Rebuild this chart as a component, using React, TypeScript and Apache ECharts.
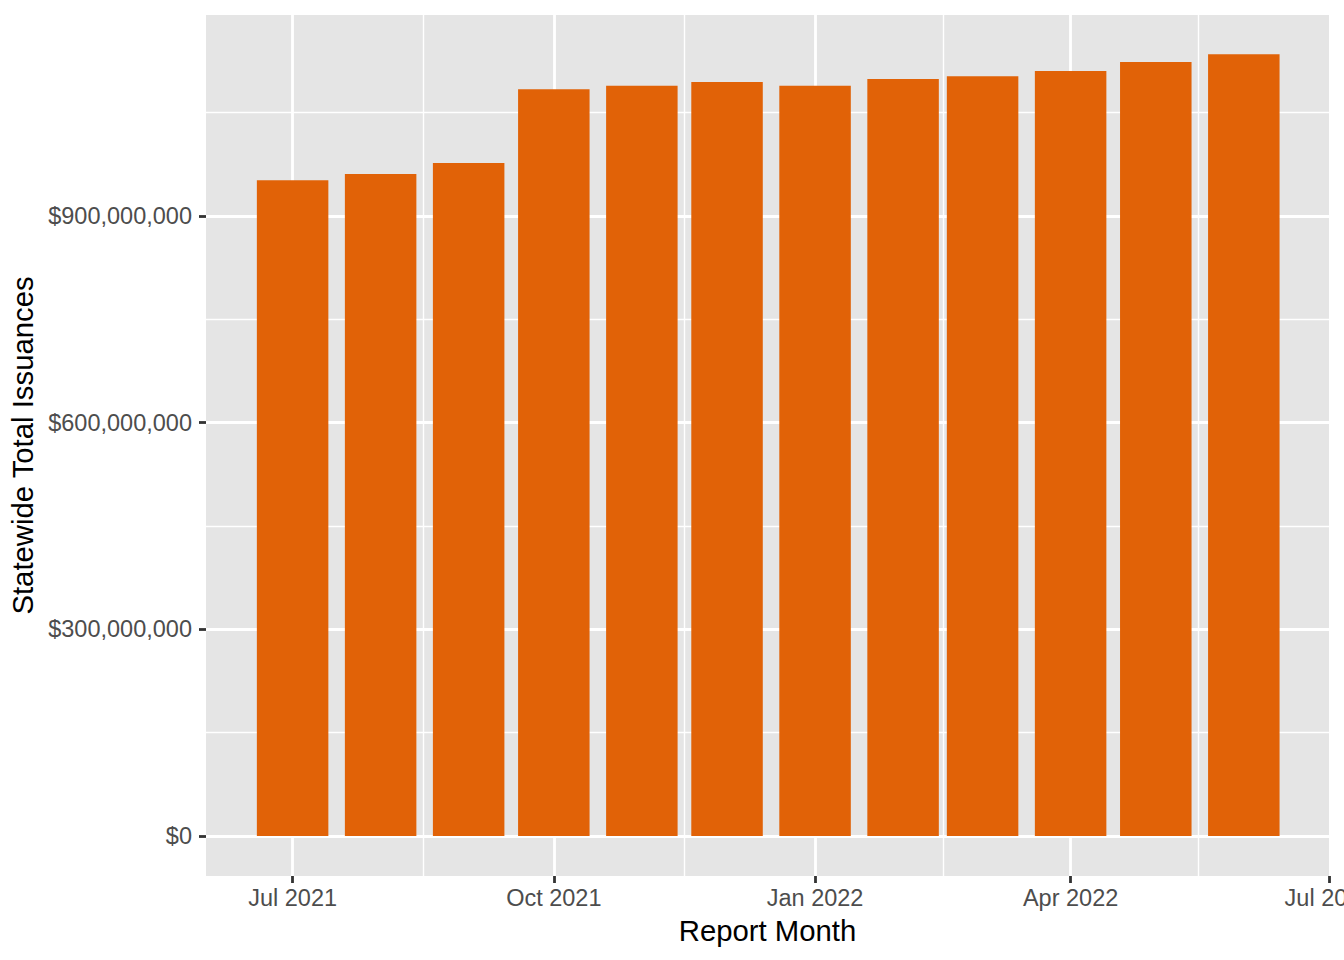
import { useEffect, useRef } from 'react';
import * as echarts from 'echarts';

// report months (first of month) and statewide totals in dollars
const months = [
  '2021-07-01', '2021-08-01', '2021-09-01', '2021-10-01', '2021-11-01', '2021-12-01',
  '2022-01-01', '2022-02-01', '2022-03-01', '2022-04-01', '2022-05-01', '2022-06-01',
];
const issuances = [
  952e6, 961e6, 977e6, 1084e6, 1089e6, 1094.5e6,
  1089e6, 1099e6, 1103e6, 1110.5e6, 1123.5e6, 1135e6,
];

const xBreaks = ['2021-07-01', '2021-10-01', '2022-01-01', '2022-04-01', '2022-07-01'];
const xMinorBreaks = ['2021-08-16', '2021-11-16', '2022-02-15', '2022-05-16'];
const yBreaks = [0, 300e6, 600e6, 900e6];
const yMinorBreaks = [150e6, 450e6, 750e6, 1050e6];

const MONTH_NAMES = ['Jan', 'Feb', 'Mar', 'Apr', 'May', 'Jun', 'Jul', 'Aug', 'Sep', 'Oct', 'Nov', 'Dec'];
const ORIGIN = Date.UTC(2021, 6, 1);
const DAY = 86400000;

// days since Jul 1 2021
const toDay = (s: string) => {
  const [y, m, d] = s.split('-').map(Number);
  return (Date.UTC(y, m - 1, d) - ORIGIN) / DAY;
};

const dayLabel = (v: number) => {
  const dt = new Date(ORIGIN + Math.round(v) * DAY);
  return `${MONTH_NAMES[dt.getUTCMonth()]} ${dt.getUTCFullYear()}`;
};

const FONT = '"Liberation Sans", Arial, Helvetica, sans-serif';

export default function App() {
  const ref = useRef<HTMLDivElement>(null);

  useEffect(() => {
    if (!ref.current) return;
    const chart = echarts.init(ref.current, null, { renderer: 'svg' });

    const majorX = xBreaks.map(toDay);
    const gridLines: any[] = [
      ...majorX.slice(0, -1).map((v) => ({ xAxis: v, lineStyle: { width: 2.8 } })),
      ...xMinorBreaks.map((s) => ({ xAxis: toDay(s), lineStyle: { width: 1.4 } })),
      ...yBreaks.map((v) => ({ yAxis: v, lineStyle: { width: 2.8 } })),
      ...yMinorBreaks.map((v) => ({ yAxis: v, lineStyle: { width: 1.4 } })),
    ];

    const option: any = {
      animation: false,
      backgroundColor: '#ffffff',
      textStyle: { fontFamily: FONT },
      grid: {
        left: 206,
        top: 15,
        right: 15,
        bottom: 84,
        show: true,
        backgroundColor: '#E5E5E5',
        borderWidth: 0,
        containLabel: false,
        outerBoundsMode: 'none',
      },
      xAxis: {
        type: 'value',
        position: 'bottom',
        min: -30.5,
        max: 365,
        name: 'Report Month',
        nameLocation: 'middle',
        nameGap: 40,
        nameTextStyle: { color: '#000000', fontSize: 29.3, fontFamily: FONT },
        axisLine: { show: false, onZero: false },
        axisTick: {
          show: true,
          length: 7,
          customValues: majorX,
          lineStyle: { color: '#333333', width: 2.8 },
        },
        axisLabel: {
          customValues: majorX,
          color: '#4D4D4D',
          fontSize: 23.5,
          margin: 10,
          fontFamily: FONT,
          formatter: (v: number) => dayLabel(v),
        },
        splitLine: { show: false },
      },
      yAxis: {
        type: 'value',
        position: 'left',
        min: -58.1e6,
        max: 1191.8e6,
        name: 'Statewide Total Issuances',
        nameLocation: 'middle',
        nameRotate: 90,
        nameGap: 164,
        nameTextStyle: { color: '#000000', fontSize: 29.3, fontFamily: FONT },
        axisLine: { show: false, onZero: false },
        axisTick: {
          show: true,
          length: 7,
          customValues: yBreaks,
          lineStyle: { color: '#333333', width: 2.8 },
        },
        axisLabel: {
          customValues: yBreaks,
          color: '#4D4D4D',
          fontSize: 23.5,
          margin: 14,
          fontFamily: FONT,
          formatter: (v: number) => '$' + Math.round(v).toLocaleString('en-US'),
        },
        splitLine: { show: false },
      },
      series: [
        {
          type: 'bar',
          barWidth: 71.5,
          itemStyle: { color: '#E16207' },
          data: months.map((m, i) => [toDay(m), issuances[i]]),
          markLine: {
            z: 1,
            silent: true,
            symbol: ['none', 'none'],
            label: { show: false },
            lineStyle: { color: '#ffffff', type: 'solid' },
            data: gridLines,
          },
        },
      ],
    };

    chart.setOption(option);
    return () => chart.dispose();
  }, []);

  return <div ref={ref} style={{ position: 'absolute', left: 0, top: 0, width: 1344, height: 960 }} />;
}
